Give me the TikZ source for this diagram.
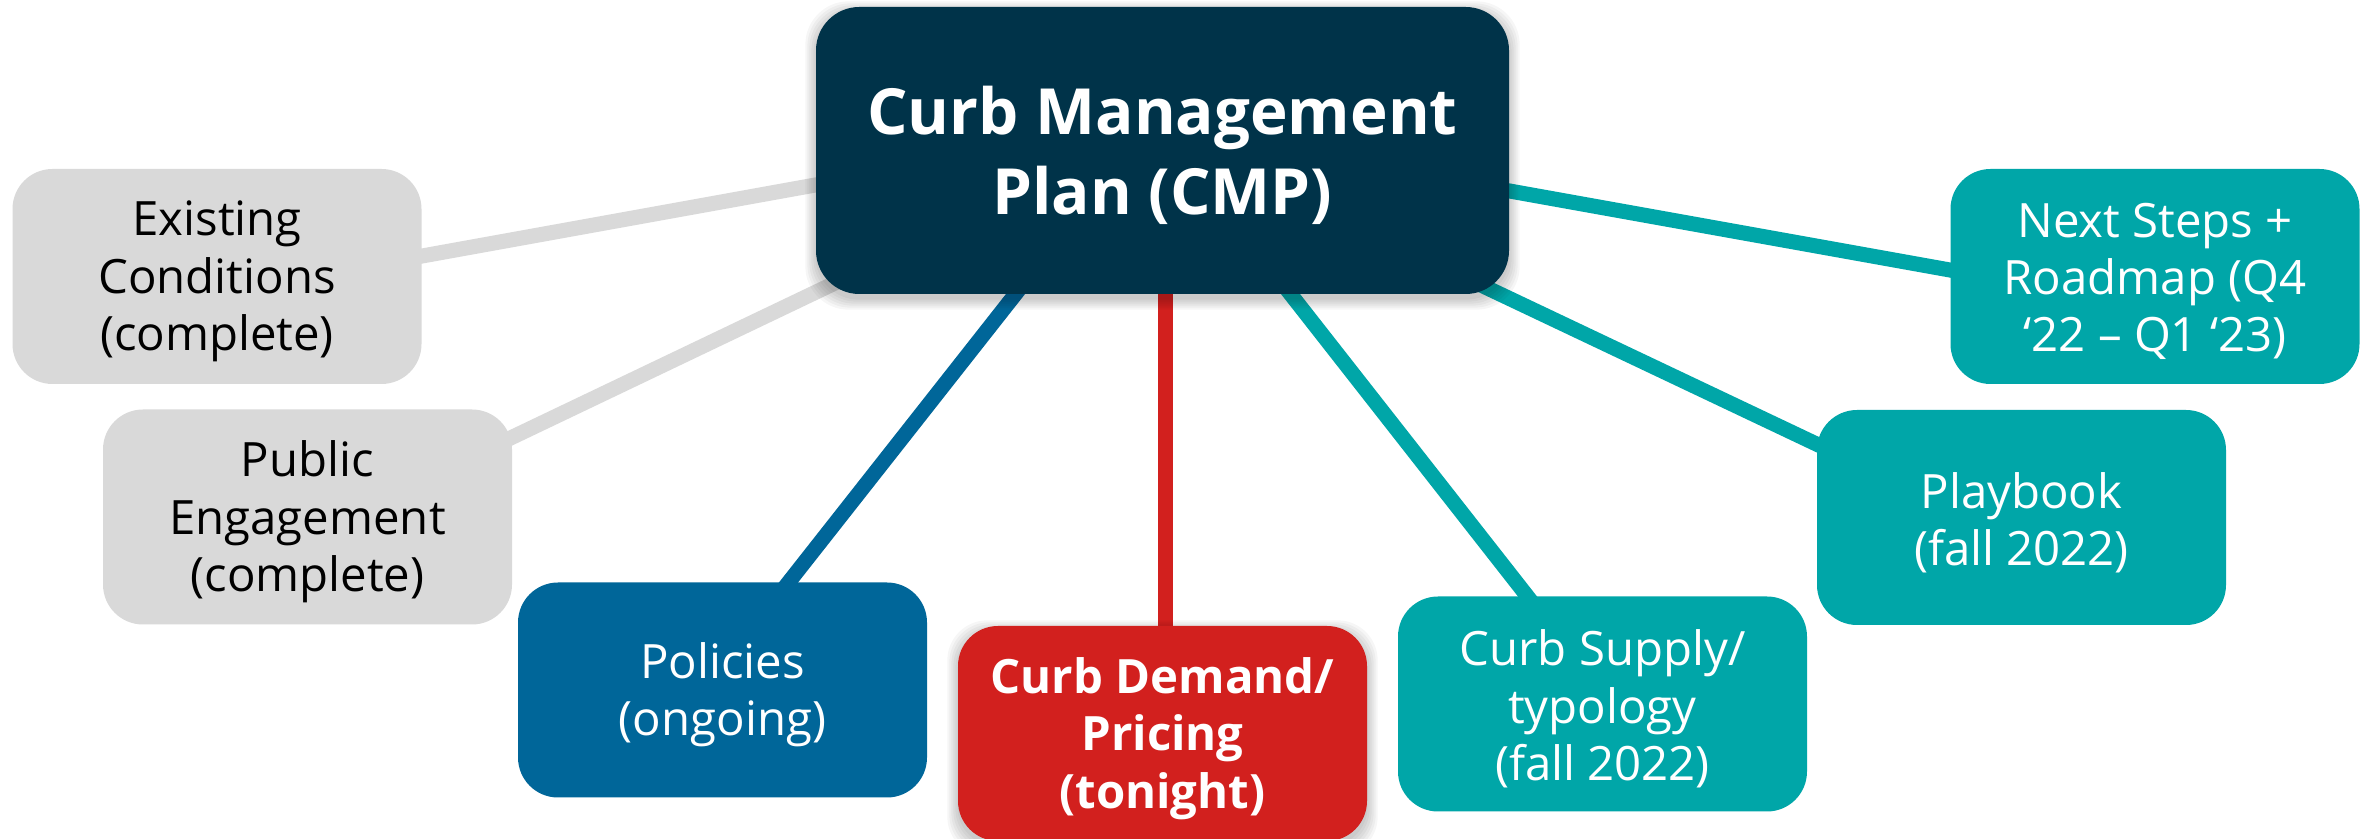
\documentclass[tikz,border=0pt]{standalone}
\usepackage{fontspec}
\setmainfont{Open Sans}
\usetikzlibrary{calc}

\definecolor{cmpnavy}{RGB}{0,51,73}
\definecolor{donegray}{RGB}{217,217,217}
\definecolor{polblue}{RGB}{0,102,153}
\definecolor{nowred}{RGB}{210,32,30}
\definecolor{futteal}{RGB}{0,166,168}

\pgfdeclarelayer{paper}
\pgfdeclarelayer{linklayer}
\pgfsetlayers{paper,linklayer,main}

% soft shadow built from stacked translucent rounded rectangles
\newcommand\castshadow[2]{%
  \foreach \g in {0,2,...,10}{%
    \fill[black, fill opacity=0.035, rounded corners=#2]
      ($(#1.north west)+(-\g,-\g+5)$) rectangle ($(#1.south east)+(\g,\g+5)$);
  }}

\tikzset{
  topic/.style={rectangle, rounded corners=12pt, inner sep=0pt,
    minimum width=122.7pt, minimum height=64.5pt},
  hubbox/.style={rectangle, rounded corners=13pt, inner sep=0pt,
    minimum width=207.9pt, minimum height=86.1pt, fill=cmpnavy},
  donebox/.style={topic, fill=donegray},
  polbox/.style={topic, fill=polblue},
  nowbox/.style={topic, fill=nowred},
  futbox/.style={topic, fill=futteal},
  caption/.style={inner sep=0pt, align=center, yshift=-1.5pt,
    font=\fontsize{14.2}{17.2}\selectfont},
  darkcaption/.style={caption, text=black},
  lightcaption/.style={caption, text=white},
  boldcaption/.style={caption, text=white,
    font=\fontsize{14.2}{17.3}\selectfont\bfseries},
  hubcaption/.style={caption, text=white,
    font=\fontsize{19.1}{23.8}\selectfont\bfseries},
  link/.style={line width=4.5pt, shorten <=-8pt, shorten >=-8pt},
}

\begin{document}
\begin{tikzpicture}[x=0.3pt, y=-0.3pt]
  \begin{pgfonlayer}{paper}
    \fill[white] (0,0) rectangle (2374,839);
  \end{pgfonlayer}
  \useasboundingbox (0,0) rectangle (2374,839);

  % boxes
  \node[hubbox]  (cmp)  at (1162.5,150.5) {};
  \node[donebox] (ex)   at (217,276.5)    {};
  \node[donebox] (pub)  at (307.5,517)    {};
  \node[polbox]  (pol)  at (722.5,690)    {};
  \node[nowbox]  (dem)  at (1162.5,733.5) {};
  \node[futbox]  (sup)  at (1602.5,704)   {};
  \node[futbox]  (play) at (2021.5,517.5) {};
  \node[futbox]  (next) at (2155,276.5)   {};

  % connectors and shadows, kept beneath the boxes
  \begin{pgfonlayer}{linklayer}
    \draw[link, donegray] ($(ex.east)+(0,-20.5)$) -- ($(cmp.west)+(0,34.5)$);
    \draw[link, donegray] ($(pub.east)+(0,-80)$) -- ($(cmp.south west)+(12,-8)$);
    \draw[link, polblue]  ($(pol.north)+(66.5,0)$) -- ($(cmp.south)+(-147.5,0)$);
    \draw[link, nowred]   ($(dem.north)+(2.5,0)$) -- ($(cmp.south)+(2.5,0)$);
    \draw[link, futteal]  ($(sup.north)+(-75.5,0)$) -- ($(cmp.south)+(128.5,0)$);
    \draw[link, futteal]  ($(play.west)+(0,-73.5)$) -- ($(cmp.south east)+(-21,-6)$);
    \draw[link, futteal]  ($(next.west)+(0,-6.5)$) -- ($(cmp.east)+(0,40.5)$);
    \castshadow{cmp}{13pt}
    \castshadow{dem}{12pt}
  \end{pgfonlayer}

  % texts
  \node[hubcaption]   (cmptxt)  at (cmp)  {Curb Management\\Plan (CMP)};
  \node[darkcaption]  (extxt)   at (ex)   {Existing\\Conditions\\(complete)};
  \node[darkcaption]  (pubtxt)  at (pub)  {Public\\Engagement\\(complete)};
  \node[lightcaption] (poltxt)  at (pol)  {Policies\\(ongoing)};
  \node[boldcaption]  (demtxt)  at (dem)  {Curb Demand/\\Pricing\\(tonight)};
  \node[lightcaption] (suptxt)  at (sup)  {Curb Supply/\\typology\\(fall 2022)};
  \node[lightcaption] (playtxt) at (play) {Playbook\\(fall 2022)};
  \node[lightcaption] (nexttxt) at (next) {Next Steps +\\Roadmap (Q4\\‘22 – Q1 ‘23)};
\end{tikzpicture}
\end{document}
